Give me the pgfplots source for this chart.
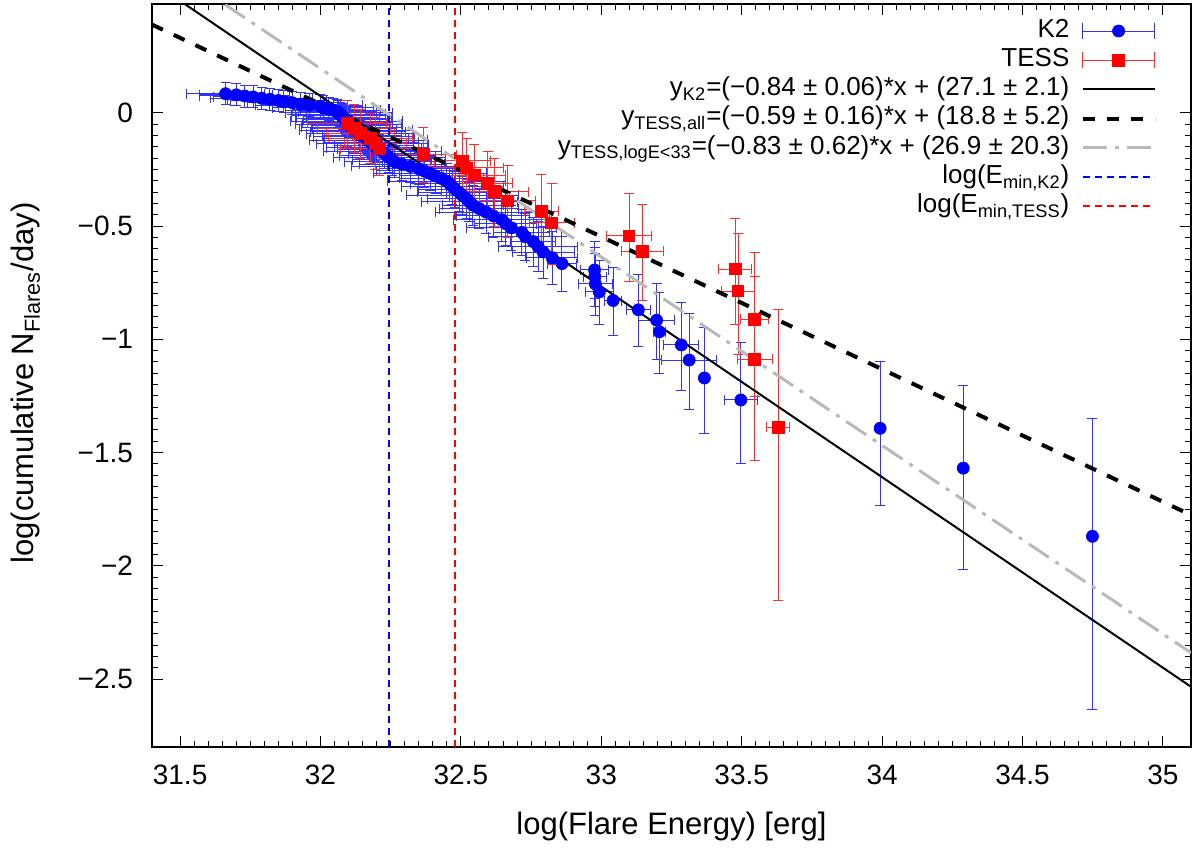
\documentclass[border=0pt]{standalone}
\usepackage{fontspec}
\setmainfont{Liberation Sans}
\usepackage{pgfplots}
\usepackage{pgfplotstable}
\pgfplotsset{compat=1.18}
\definecolor{k2bar}{RGB}{50,50,255}
\definecolor{tessbar}{RGB}{255,45,45}
\definecolor{fitgray}{RGB}{185,185,185}

% K2: log E, log cumulative rate, x error, y error plus, y error minus
\pgfplotstableread{
x y ex yp ym
34.749 -1.870 0.000 0.521 0.765
34.289 -1.569 0.000 0.367 0.449
33.993 -1.393 0.000 0.296 0.340
33.497 -1.268 0.060 0.254 0.282
33.367 -1.171 0.010 0.225 0.245
33.313 -1.092 0.098 0.204 0.219
33.285 -1.025 0.062 0.188 0.199
33.207 -0.967 0.020 0.175 0.184
33.197 -0.916 0.064 0.164 0.172
33.132 -0.870 0.043 0.155 0.161
33.042 -0.829 0.030 0.147 0.153
32.993 -0.791 0.050 0.140 0.145
32.979 -0.756 0.060 0.134 0.139
32.977 -0.724 0.040 0.129 0.133
32.976 -0.694 0.050 0.124 0.128
32.860 -0.666 0.050 0.120 0.123
32.825 -0.640 0.090 0.116 0.119
32.793 -0.615 0.110 0.113 0.115
32.775 -0.591 0.140 0.109 0.112
32.758 -0.569 0.080 0.106 0.109
32.730 -0.548 0.130 0.104 0.106
32.717 -0.528 0.100 0.101 0.103
32.680 -0.508 0.160 0.099 0.101
32.660 -0.490 0.110 0.097 0.098
32.645 -0.472 0.170 0.094 0.096
32.615 -0.455 0.130 0.092 0.094
32.590 -0.439 0.180 0.091 0.092
32.565 -0.423 0.140 0.089 0.090
32.543 -0.408 0.110 0.087 0.089
32.530 -0.393 0.170 0.086 0.087
32.520 -0.379 0.140 0.084 0.086
32.505 -0.365 0.200 0.083 0.084
32.495 -0.352 0.150 0.082 0.083
32.480 -0.339 0.130 0.080 0.081
32.470 -0.326 0.180 0.079 0.080
32.460 -0.314 0.140 0.078 0.079
32.450 -0.302 0.210 0.077 0.078
32.430 -0.290 0.150 0.076 0.077
32.410 -0.279 0.130 0.075 0.076
32.390 -0.268 0.200 0.074 0.074
32.370 -0.257 0.170 0.073 0.073
32.350 -0.247 0.140 0.072 0.072
32.320 -0.237 0.210 0.071 0.071
32.290 -0.227 0.150 0.070 0.071
32.265 -0.217 0.180 0.069 0.070
32.255 -0.207 0.140 0.068 0.069
32.245 -0.198 0.200 0.067 0.068
32.238 -0.189 0.170 0.067 0.067
32.228 -0.180 0.130 0.066 0.067
32.220 -0.171 0.210 0.065 0.066
32.210 -0.162 0.150 0.065 0.065
32.200 -0.154 0.180 0.064 0.065
32.190 -0.146 0.140 0.063 0.064
32.185 -0.138 0.200 0.063 0.064
32.180 -0.130 0.170 0.062 0.063
32.170 -0.122 0.210 0.061 0.062
32.165 -0.114 0.150 0.061 0.062
32.155 -0.107 0.180 0.060 0.061
32.148 -0.099 0.140 0.060 0.061
32.140 -0.092 0.190 0.059 0.060
32.134 -0.085 0.170 0.059 0.060
32.127 -0.078 0.200 0.058 0.059
32.120 -0.071 0.150 0.058 0.059
32.113 -0.064 0.180 0.057 0.058
32.107 -0.057 0.140 0.057 0.057
32.100 -0.051 0.190 0.056 0.057
32.096 -0.044 0.160 0.056 0.056
32.092 -0.038 0.200 0.055 0.056
32.088 -0.031 0.150 0.055 0.055
32.084 -0.025 0.170 0.055 0.055
32.080 -0.019 0.130 0.054 0.055
32.075 -0.013 0.180 0.054 0.054
32.070 -0.007 0.160 0.053 0.054
32.065 -0.001 0.190 0.053 0.053
32.060 0.005 0.140 0.053 0.053
32.045 0.011 0.170 0.052 0.053
32.030 0.016 0.130 0.052 0.052
32.010 0.022 0.180 0.052 0.052
32.000 0.028 0.150 0.051 0.052
31.960 0.033 0.190 0.051 0.051
31.930 0.038 0.140 0.051 0.051
31.900 0.044 0.160 0.050 0.051
31.870 0.049 0.130 0.050 0.050
31.850 0.054 0.170 0.050 0.050
31.820 0.059 0.150 0.050 0.050
31.790 0.064 0.180 0.049 0.049
31.760 0.070 0.140 0.049 0.049
31.730 0.074 0.160 0.048 0.049
31.700 0.079 0.130 0.048 0.048
31.662 0.084 0.140 0.048 0.048
}\kII

% TESS
\pgfplotstableread{
x y ex yp ym
33.630 -1.389 0.040 0.521 0.765
33.546 -1.088 0.062 0.367 0.449
33.546 -0.912 0.050 0.296 0.340
33.487 -0.787 0.060 0.254 0.282
33.477 -0.690 0.058 0.225 0.245
33.146 -0.611 0.074 0.204 0.219
33.099 -0.544 0.081 0.188 0.199
32.823 -0.486 0.080 0.175 0.184
32.787 -0.435 0.060 0.164 0.172
32.667 -0.389 0.100 0.155 0.161
32.619 -0.348 0.120 0.147 0.153
32.595 -0.311 0.090 0.140 0.145
32.548 -0.275 0.110 0.134 0.139
32.520 -0.243 0.130 0.129 0.133
32.505 -0.213 0.100 0.124 0.128
32.366 -0.185 0.120 0.120 0.123
32.210 -0.160 0.140 0.116 0.119
32.195 -0.136 0.110 0.113 0.115
32.178 -0.113 0.150 0.109 0.112
32.142 -0.091 0.120 0.106 0.109
32.120 -0.068 0.130 0.104 0.106
32.095 -0.047 0.140 0.101 0.103
}\tess

\begin{document}
\begin{tikzpicture}
\begin{axis}[
  name=ax,
  at={(0,0)}, anchor=south west,
  scale only axis,
  width=519.5pt, height=371.5pt,
  xmin=31.4, xmax=35.1,
  ymin=-2.8, ymax=0.48,
  axis line style={line width=0.9pt},
  tick style={black, line width=0.5pt},
  tick align=inside,
  major tick length=5.5pt,
  minor tick length=3pt,
  minor tick num=9,
  xtick={31.5,32,32.5,33,33.5,34,34.5,35},
  xticklabels={31.5,32,32.5,33,33.5,34,34.5,35},
  ytick={-2.5,-2,-1.5,-1,-0.5,0},
  yticklabels={−2.5,−2,−1.5,−1,−0.5,0},
  ticklabel style={font=\fontsize{14}{16}\selectfont},
  xticklabel style={yshift=-5.5pt},
  yticklabel style={xshift=-6pt},
  xlabel={log(Flare Energy) [erg]},
  ylabel={log(cumulative N\textsubscript{Flares}/day)},
  label style={font=\fontsize{15.5}{18}\selectfont},
  xlabel style={at={(axis description cs:0.5,0)}, anchor=center, yshift=-39.5pt},
  ylabel style={at={(axis description cs:-0.1213,0.49)}, anchor=center},
  clip=true,
  legend cell align=right,
  legend plot pos=right,
  legend style={draw=none, fill=none, at={(rel axis cs:1,1)}, anchor=north east,
    xshift=-17pt, yshift=-6pt,
    font=\fontsize{13}{15}\selectfont,
    row sep=0pt, column sep=5pt, inner sep=0pt,
    nodes={inner sep=0.6pt, text height=9.8pt, text depth=3.6pt}},
  legend image code/.code={\draw[#1] (0pt,0pt) -- (36pt,0pt);},
]
\addplot[only marks, mark=*, mark size=3pt, color=blue,
  legend image code/.code={
    \draw[k2bar, line width=0.5pt] (0pt,0pt) -- (36pt,0pt);
    \draw[k2bar, line width=0.5pt] (0pt,-4pt) -- (0pt,4pt) (36pt,-4pt) -- (36pt,4pt);
    \fill[blue] (18pt,0pt) circle (3pt);},
  error bars/.cd, x dir=both, x explicit, y dir=both, y explicit,
  error bar style={k2bar, line width=0.5pt, solid},
  error mark options={k2bar, rotate=90, mark size=2.5pt, line width=0.5pt, solid},
  ] table[x=x, y=y, x error=ex, y error plus=yp, y error minus=ym] {\kII};
\addlegendentry{K2}
\addplot[only marks, mark=square*, mark size=2.9pt, color=red,
  legend image code/.code={
    \draw[tessbar, line width=0.5pt] (0pt,0pt) -- (36pt,0pt);
    \draw[tessbar, line width=0.5pt] (0pt,-4pt) -- (0pt,4pt) (36pt,-4pt) -- (36pt,4pt);
    \fill[red] (15.1pt,-2.9pt) rectangle (20.9pt,2.9pt);},
  error bars/.cd, x dir=both, x explicit, y dir=both, y explicit,
  error bar style={tessbar, line width=0.5pt, solid},
  error mark options={tessbar, rotate=90, mark size=2.5pt, line width=0.5pt, solid},
  ] table[x=x, y=y, x error=ex, y error plus=yp, y error minus=ym] {\tess};
\addlegendentry{TESS}
\addplot[black, line width=1pt] coordinates {(31.4,0.578) (35.1,-2.534)};
\addlegendentry{y\textsubscript{K2}=(−0.84 ± 0.06)*x + (27.1 ± 2.1)}
\addplot[black, line width=2pt, dash pattern=on 6pt off 6pt] coordinates {(31.4,0.389) (35.1,-1.776)};
\addlegendentry{y\textsubscript{TESS,all}=(−0.59 ± 0.16)*x + (18.8 ± 5.2)}
\addplot[fitgray, line width=1.5pt, dash pattern=on 12pt off 4pt on 2pt off 4pt] coordinates {(31.4,0.694) (35.1,-2.384)};
\addlegendentry{y\textsubscript{TESS,logE<33}=(−0.83 ± 0.62)*x + (26.9 ± 20.3)}
\addplot[blue, line width=0.8pt, dash pattern=on 3.5pt off 2.5pt] coordinates {(32.243,-2.8) (32.243,0.48)};
\addlegendentry{log(E\textsubscript{min,K2})}
\addplot[red, line width=0.8pt, dash pattern=on 3.5pt off 2.5pt] coordinates {(32.48,-2.8) (32.48,0.48)};
\addlegendentry{log(E\textsubscript{min,TESS})}
\end{axis}
\pgfresetboundingbox
\path[use as bounding box] (-76pt,-50.5pt) rectangle (524pt,373.5pt);
\end{tikzpicture}
\end{document}
